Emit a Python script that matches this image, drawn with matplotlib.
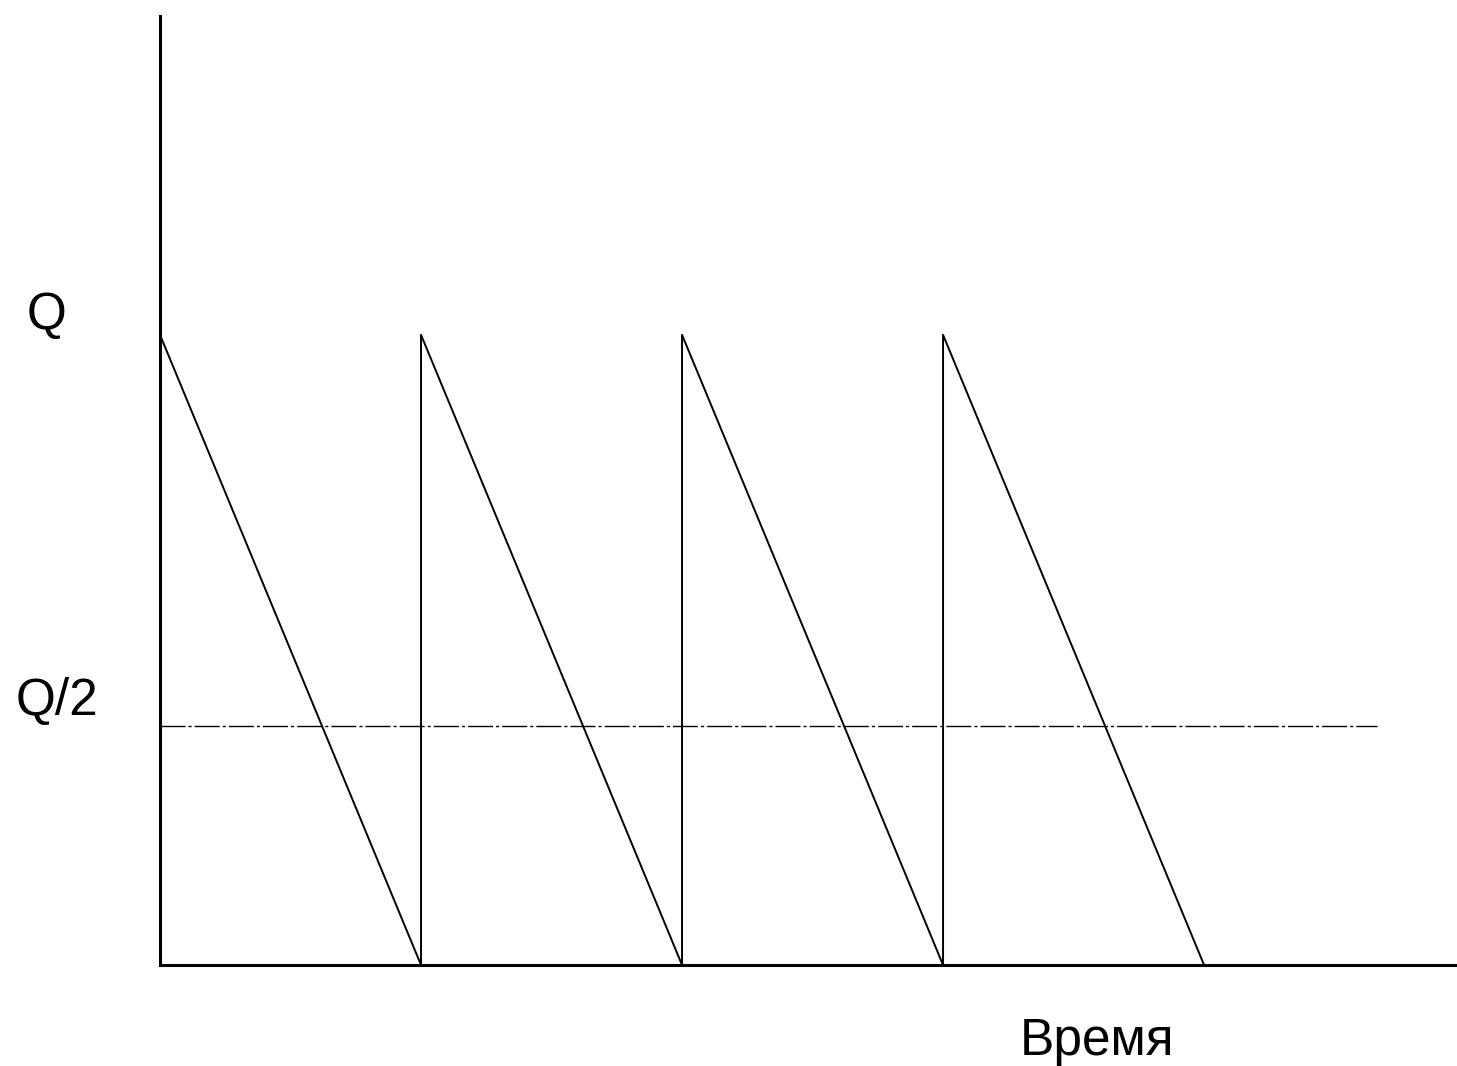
import matplotlib.pyplot as plt

# sawtooth stock level, Q = 1, one cycle = 1 time unit
t_points = [0, 1, 1, 2, 2, 3, 3, 4]
q_points = [1, 0, 1, 0, 1, 0, 1, 0]
half_level = 0.38      # dash-dot line, as drawn in the picture
half_end = 4.663
x_max = 4.969
y_max = 1.506

W, H = 1457, 1066
fig = plt.figure(figsize=(W / 100, H / 100), dpi=100)
ax = fig.add_axes([160 / W, (H - 965) / H, (W - 160) / W, (965 - 16) / H])

ax.plot(t_points, q_points, color='black', lw=1.4, clip_on=False)
ax.plot([0, half_end], [half_level, half_level], color='black', lw=1.0,
        linestyle=(0, (18, 2.2, 2.2, 2.2)))

ax.set_xlim(0, x_max)
ax.set_ylim(0, y_max)
ax.set_xticks([])
ax.set_yticks([])
for side in ['top', 'right']:
    ax.spines[side].set_visible(False)
for side in ['left', 'bottom']:
    ax.spines[side].set_linewidth(2.2)

font = dict(family=['Liberation Sans', 'DejaVu Sans'], fontsize=37, color='black')
fig.text(47 / W, 1 - 329 / H, 'Q', ha='center', va='baseline', **font)
fig.text(57 / W, 1 - 715 / H, 'Q/2', ha='center', va='baseline', **font)
fig.text(1097 / W, 1 - 1055 / H, 'Время', ha='center', va='baseline', **font)

fig.savefig('out.png', dpi=100)
